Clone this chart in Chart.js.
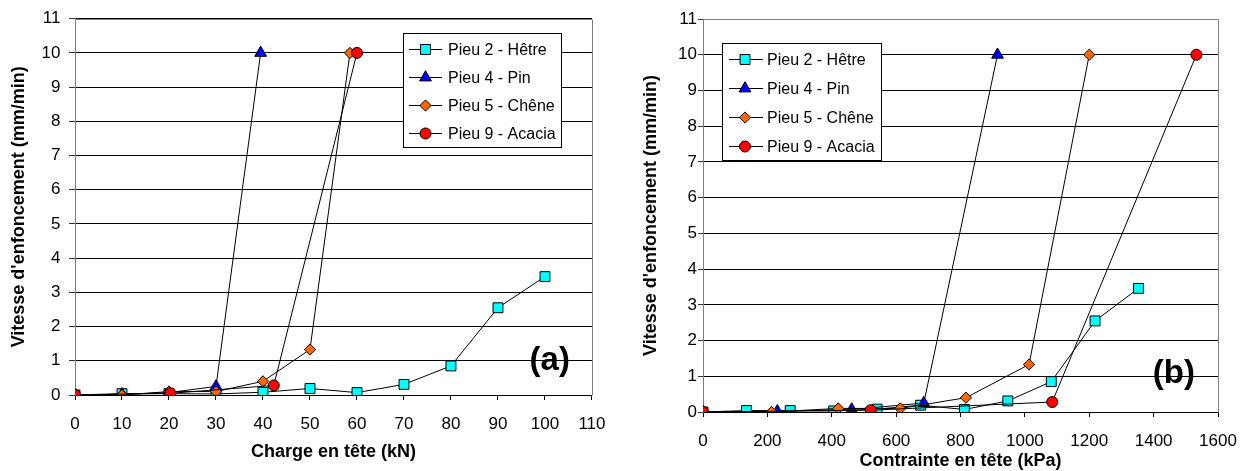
<!DOCTYPE html>
<html>
<head>
<meta charset="utf-8">
<title>Vitesse d'enfoncement des pieux</title>
<script src="https://cdn.jsdelivr.net/npm/chart.js"></script>
<style>
  body { margin: 0; background: #fff; }
  canvas { position: absolute; top: 0; }
  #chartA { left: 0; }
  #chartB { left: 620px; }
</style>
</head>
<body>
<canvas id="chartA" width="620" height="471"></canvas>
<canvas id="chartB" width="632" height="471"></canvas>
<script>
// series names (legend order)
const pileNames = ['Pieu 2 - Hêtre', 'Pieu 4 - Pin', 'Pieu 5 - Chêne', 'Pieu 9 - Acacia'];

// vitesse d'enfoncement (mm/min), same for both panels
const hetreVitesse = [0, 0.04, 0.04, 0.03, 0.08, 0.19, 0.07, 0.31, 0.85, 2.55, 3.46];
const pinVitesse = [0, 0.02, 0.07, 0.25, 10];
const cheneVitesse = [0, 0.0, 0.1, 0.1, 0.4, 1.33, 10];
const acaciaVitesse = [0, 0.05, 0.28, 10];

// (a) charge en tête (kN)
const hetreCharge = [0, 10, 20, 30, 40, 50, 60, 70, 80, 90, 100];
const pinCharge = [0, 10, 20, 30, 39.5];
const cheneCharge = [0, 10, 20, 30, 40, 50, 58.5];
const acaciaCharge = [0, 20.3, 42.3, 60];

// (b) contrainte en tête (kPa)
const hetreContrainte = [0, 135, 271, 406, 541, 676, 812, 947, 1082, 1218, 1353];
const pinContrainte = [0, 231, 462, 686, 915];
const cheneContrainte = [0, 213, 420, 613, 817, 1013, 1200];
const acaciaContrainte = [0, 521, 1085, 1533];

// axis ticks
const yMax = 11;
const chargeMax = 110, chargeStep = 10;
const contrainteMax = 1600, contrainteStep = 200;

Chart.defaults.font.family = "'Liberation Sans', Arial, sans-serif";
Chart.defaults.color = '#000';

// marker look of each series
const markerFill = ['#00ffff', '#0000ff', '#ff6600', '#ff0000'];
const markerShape = ['rect', 'triangle', 'rectRot', 'circle'];
const markerSize = [7, 6.8, 5.6, 5.5];

function makeDatasets(xs, ys) {
  return xs.map((xv, i) => ({
    label: pileNames[i],
    data: xv.map((x, j) => ({ x: x, y: ys[i][j] })),
    showLine: true,
    borderColor: '#000',
    borderWidth: 1,
    pointStyle: markerShape[i],
    pointRadius: markerSize[i],
    pointBackgroundColor: markerFill[i],
    pointBorderColor: '#000',
    pointBorderWidth: 1,
    order: 4 - i
  }));
}

function drawMarker(ctx, shape, r, fill, x, y) {
  ctx.save();
  ctx.fillStyle = fill;
  ctx.strokeStyle = '#000';
  ctx.lineWidth = 1;
  if (Chart.helpers && Chart.helpers.drawPoint) {
    Chart.helpers.drawPoint(ctx, { pointStyle: shape, radius: r, rotation: 0, borderWidth: 1 }, x, y);
  } else {
    ctx.beginPath();
    ctx.arc(x, y, r, 0, Math.PI * 2);
    ctx.fill();
    ctx.stroke();
  }
  ctx.restore();
}

// gray frame on top and right of the plot area
const frame = {
  id: 'frame',
  beforeDatasetsDraw(chart) {
    const { ctx, chartArea: a } = chart;
    const l = Math.round(a.left) + 0.5, t = Math.round(a.top) + 0.5;
    const r = Math.round(a.right) + 0.5, b = Math.round(a.bottom) + 0.5;
    ctx.save();
    ctx.strokeStyle = '#808080';
    ctx.lineWidth = 1;
    ctx.beginPath();
    ctx.moveTo(l, t);
    ctx.lineTo(r, t);
    ctx.lineTo(r, b);
    ctx.stroke();
    ctx.restore();
  }
};

// boxed legend inside the plot + panel letter
const boxLegend = {
  id: 'boxLegend',
  afterDraw(chart, args, opts) {
    const { ctx, chartArea: a } = chart;
    const x0 = Math.round(a.left + opts.dx), y0 = Math.round(a.top + opts.dy);
    ctx.save();
    ctx.fillStyle = '#fff';
    ctx.fillRect(x0, y0, opts.w, opts.h);
    ctx.strokeStyle = '#000';
    ctx.lineWidth = 1;
    ctx.strokeRect(x0 + 0.5, y0 + 0.5, opts.w, opts.h);
    ctx.font = "16px 'Liberation Sans', Arial, sans-serif";
    ctx.textBaseline = 'middle';
    ctx.textAlign = 'left';
    chart.data.datasets.forEach((ds, i) => {
      const cy = Math.round(y0 + opts.first + i * opts.row) + 0.5;
      ctx.strokeStyle = '#000';
      ctx.beginPath();
      ctx.moveTo(x0 + opts.lineFrom, cy);
      ctx.lineTo(x0 + opts.lineTo, cy);
      ctx.stroke();
      drawMarker(ctx, ds.pointStyle, ds.pointRadius, ds.pointBackgroundColor, x0 + opts.mark, cy);
      ctx.fillStyle = '#000';
      ctx.fillText(ds.label, x0 + opts.text, cy + 1);
    });
    ctx.font = "bold 33px 'Liberation Sans', Arial, sans-serif";
    ctx.textAlign = 'right';
    ctx.fillText(opts.letter, a.right - opts.letterRight, a.bottom - opts.letterUp);
    ctx.restore();
  }
};

function makeChart(id, xs, xTitle, xMax, xStep, lay) {
  return new Chart(document.getElementById(id), {
    type: 'scatter',
    data: { datasets: makeDatasets(xs, [hetreVitesse, pinVitesse, cheneVitesse, acaciaVitesse]) },
    plugins: [frame, boxLegend],
    options: {
      responsive: false,
      animation: false,
      layout: { padding: { left: 0, right: lay.right, top: lay.top, bottom: 0 } },
      plugins: {
        legend: { display: false },
        tooltip: { enabled: false },
        boxLegend: lay.legend
      },
      scales: {
        x: {
          type: 'linear',
          min: 0,
          max: xMax,
          afterFit: (s) => { s.height = lay.xHeight; },
          ticks: { stepSize: xStep, font: { size: 17 }, padding: lay.xTickPad, callback: (v) => String(v) },
          grid: { drawOnChartArea: false, drawTicks: true, tickLength: 5, tickColor: '#000' },
          border: { color: '#000' },
          title: {
            display: true,
            text: xTitle,
            font: { size: 18, weight: 'bold' },
            padding: { top: 0, bottom: lay.xTitlePad }
          }
        },
        y: {
          min: 0,
          max: yMax,
          afterFit: (s) => { s.width = lay.yWidth; },
          ticks: { stepSize: 1, font: { size: 17 }, padding: lay.yTickPad, callback: (v) => String(v) },
          grid: { color: '#000', tickLength: lay.yTickLen, tickColor: '#333' },
          border: { color: '#808080' },
          title: {
            display: true,
            text: "Vitesse d'enfoncement (mm/min)",
            font: { size: 18, weight: 'bold' },
            padding: { top: lay.yTitlePad, bottom: 0 }
          }
        }
      }
    }
  });
}

makeChart('chartA', [hetreCharge, pinCharge, cheneCharge, acaciaCharge],
  'Charge en tête (kN)', chargeMax, chargeStep, {
    right: 25, top: 18, xHeight: 76, yWidth: 75,
    xTickPad: 14.5, yTickPad: 8.5, yTickLen: 6, xTitlePad: 8, yTitlePad: 8,
    legend: {
      dx: 328, dy: 14, w: 158, h: 114, first: 15.5, row: 28,
      lineFrom: 6, lineTo: 39, mark: 22.5, text: 45,
      letter: '(a)', letterRight: 22, letterUp: 34
    }
  });

makeChart('chartB', [hetreContrainte, pinContrainte, cheneContrainte, acaciaContrainte],
  'Contrainte en tête (kPa)', contrainteMax, contrainteStep, {
    right: 34, top: 19, xHeight: 59, yWidth: 83,
    xTickPad: 14, yTickPad: 1, yTickLen: 5, xTitlePad: -1, yTitlePad: 20,
    legend: {
      dx: 18.5, dy: 24, w: 159, h: 117, first: 16, row: 29,
      lineFrom: 7, lineTo: 41, mark: 23, text: 45,
      letter: '(b)', letterRight: 23, letterUp: 38
    }
  });
</script>
</body>
</html>
